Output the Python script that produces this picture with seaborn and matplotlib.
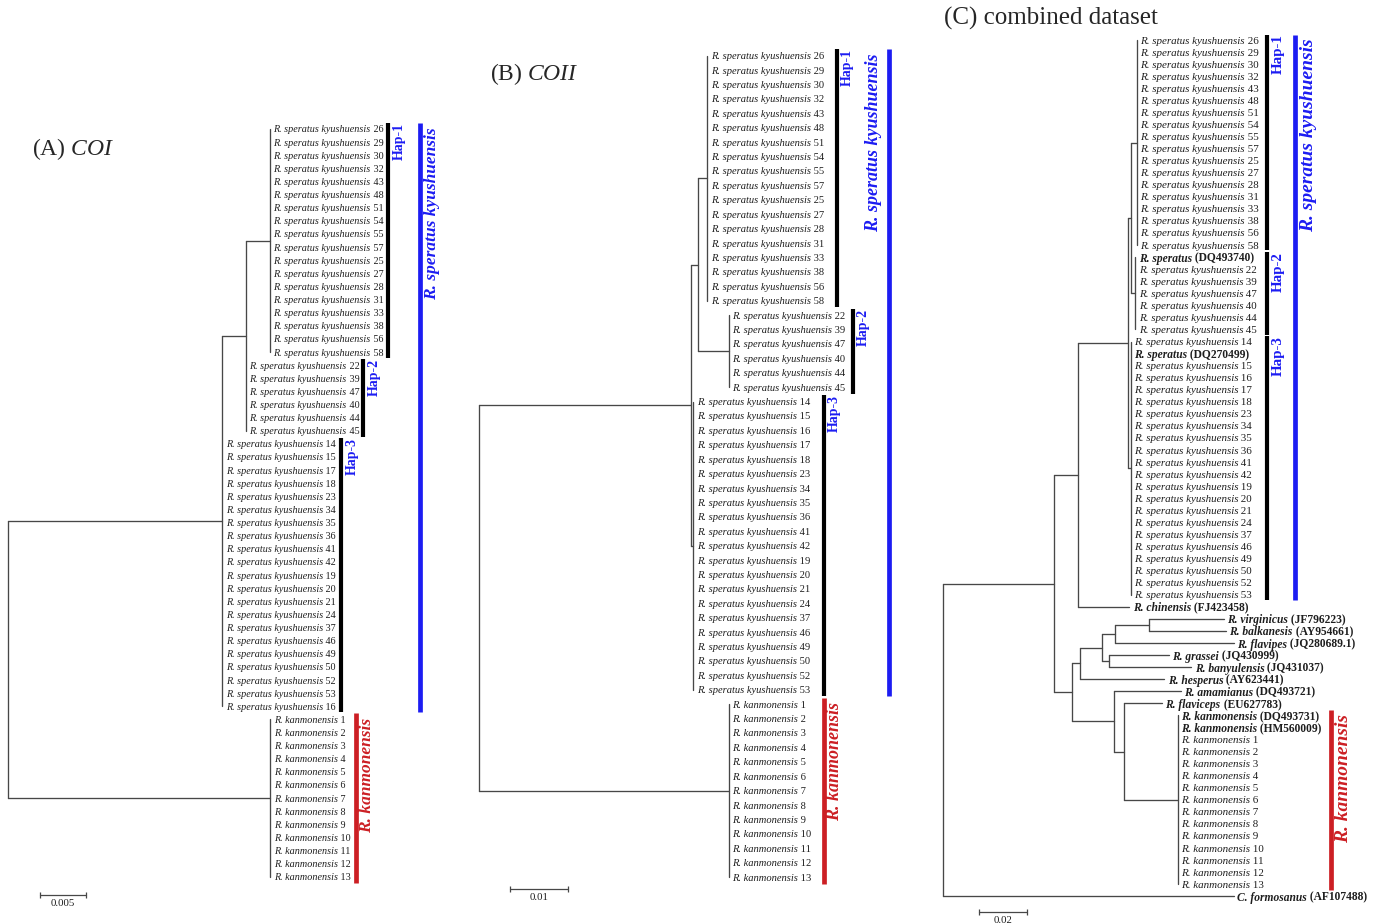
import numpy as np
import pandas as pd
import seaborn as sns
import matplotlib.pyplot as plt

sns.set_theme(style="white")
plt.rcParams['font.family'] = ['Liberation Serif', 'DejaVu Serif']
plt.rcParams['mathtext.fontset'] = 'custom'
plt.rcParams['mathtext.rm'] = 'Liberation Serif'
plt.rcParams['mathtext.it'] = 'Liberation Serif:italic'

SK = 'R. speratus kyushuensis'
SP = 'R. speratus'
RK = 'R. kanmonensis'

# ---------------- (A) COI ----------------
a_hap1 = [26, 29, 30, 32, 43, 48, 51, 54, 55, 57, 25, 27, 28, 31, 33, 38, 56, 58]
a_hap2 = [22, 39, 47, 40, 44, 45]
a_hap3 = [14, 15, 17, 18, 23, 34, 35, 36, 41, 42, 19, 20, 21, 24, 37, 46, 49, 50, 52, 53, 16]
a_kan = list(range(1, 14))
a_node = ['sperat', 'sub', 'hap1', 'kan']
a_depth = [0.02314, 0.0257, 0.02829, 0.02833]

# ---------------- (B) COII ----------------
b_hap1 = [26, 29, 30, 32, 43, 48, 51, 54, 55, 57, 25, 27, 28, 31, 33, 38, 56, 58]
b_hap2 = [22, 39, 47, 40, 44, 45]
b_hap3 = [14, 15, 16, 17, 18, 23, 34, 35, 36, 41, 42, 19, 20, 21, 24, 37, 46, 49, 50, 52, 53]
b_kan = list(range(1, 14))
b_node = ['sperat', 'hap3', 'sub', 'hap1', 'hap2', 'kan']
b_depth = [0.03695, 0.03735, 0.03822, 0.03979, 0.04353, 0.04353]

# ---------------- (C) combined dataset ----------------
c_hap1 = [26, 29, 30, 32, 43, 48, 51, 54, 55, 57, 25, 27, 28, 31, 33, 38, 56, 58]
c_hap2 = ['DQ493740', 22, 39, 47, 40, 44, 45]
c_hap3 = [14, 'DQ270499', 15, 16, 17, 18, 23, 34, 35, 36, 41, 42, 19, 20, 21, 24, 37, 46, 49, 50, 52, 53]
c_kan = ['DQ493731', 'HM560009'] + list(range(1, 14))
c_out = ['R. chinensis', 'R. virginicus', 'R. balkanesis', 'R. flavipes', 'R. grassei',
         'R. banyulensis', 'R. hesperus', 'R. amamianus', 'R. flaviceps', 'C. formosanus']
c_out_acc = ['FJ423458', 'JF796223', 'AY954661', 'JQ280689.1', 'JQ430999',
             'JQ431037', 'AY623441', 'DQ493721', 'EU627783', 'AF107488']
c_out_tip = [0.0778, 0.1171, 0.1180, 0.1212, 0.0942, 0.1036, 0.0923, 0.0993, 0.0914, 0.1212]
c_node = ['ingroup', 'sperchin', 'sperat', 'sub', 'hap1', 'hap2', 'hap3',
          'n1', 'n2', 'n3', 'n4', 'n5', 'n6', 'n7', 'n8', 'kan']
c_depth = [0.0464, 0.0562, 0.0773, 0.0786, 0.0810, 0.0803, 0.0783,
           0.0540, 0.0572, 0.0665, 0.0718, 0.0693, 0.0860, 0.0714, 0.0757, 0.0979]

BLUE = '#1c1cf2'
RED = '#cc1f24'
LINE = '#474747'
INK = '#1e1e1e'
W, H = 1377, 923


def node(depth, children):
    return {'depth': depth, 'children': children}


def tips(names, group, depth, species, acc_species=None):
    out = []
    for n in names:
        if isinstance(n, str):
            out.append({'depth': depth, 'it': acc_species, 'rm': '(%s)' % n, 'bold': True, 'group': group})
        else:
            out.append({'depth': depth, 'it': species, 'rm': str(n), 'bold': False, 'group': group})
    return out


def out_tip(i):
    return {'depth': c_out_tip[i], 'it': c_out[i], 'rm': '(%s)' % c_out_acc[i], 'bold': True, 'group': 'out'}


def layout(nd, rows):
    if 'children' not in nd:
        nd['y'] = len(rows)
        rows.append(nd)
        return
    for ch in nd['children']:
        layout(ch, rows)
    nd['y'] = (nd['children'][0]['y'] + nd['children'][-1]['y']) / 2


def collect(nd, segs):
    if 'children' not in nd:
        return
    kids = nd['children']
    segs.append(((nd['depth'], nd['depth']), (kids[0]['y'], kids[-1]['y'])))
    for ch in kids:
        if ch['depth'] > nd['depth']:
            segs.append(((nd['depth'], ch['depth']), (ch['y'], ch['y'])))
        collect(ch, segs)


def make_panel(x0, sx, y0, sy):
    ax = fig.add_axes([0, 0, 1, 1])
    px = lambda p: (p - x0) / sx
    py = lambda p: (p - y0) / sy
    lims = ((-x0 / sx, (W - x0) / sx), ((H - y0) / sy, -y0 / sy))
    return ax, px, py, lims


def draw_tree(ax, root, fs, fs_bold=None):
    fs_bold = fs_bold or fs
    rows = []
    layout(root, rows)
    segs = []
    collect(root, segs)
    recs = [(i, x, y) for i, (xs, ys) in enumerate(segs) for x, y in zip(xs, ys)]
    df = pd.DataFrame(recs, columns=['seg', 'x', 'y'])
    sns.lineplot(data=df, x='x', y='y', units='seg', estimator=None, sort=False,
                 color=LINE, lw=0.95, ax=ax, legend=False)
    for t in rows:
        wt = 'bold' if t['bold'] else 'normal'
        size = fs_bold if t['bold'] else fs
        t1 = ax.annotate(t['it'], xy=(t['depth'], t['y']), xytext=(2.4, 0), textcoords='offset points',
                         ha='left', va='center_baseline', fontsize=size, color=INK,
                         fontstyle='italic', fontweight=wt)
        ax.annotate(' ' + t['rm'], xy=(1, 0), xycoords=t1, ha='left', va='bottom',
                    fontsize=size, color=INK, fontweight=wt)
    groups = {}
    for t in rows:
        groups.setdefault(t['group'], []).append(t['y'])
    return groups


def hap_bar(ax, rows, xb, xl, text, fs, pad=(0.45, 0.45)):
    y0, y1 = min(rows) - pad[0], max(rows) + pad[1]
    ax.plot([xb, xb], [y0, y1], color='black', lw=3.0, solid_capstyle='butt')
    ax.text(xl, y0, text, rotation=90, ha='center', va='top', fontsize=fs,
            color=BLUE, fontweight='bold')


def species_bar(ax, rows, xb, xl, text, color, fs, pad=(0.45, 0.45), gap=0.3):
    y0, y1 = min(rows) - pad[0], max(rows) + pad[1]
    ax.plot([xb, xb], [y0, y1], color=color, lw=3.4, solid_capstyle='butt')
    ax.text(xl, y0 + gap, text, rotation=90, ha='center', va='top', fontsize=fs,
            color=color, fontweight='bold', fontstyle='italic')


def scale_bar(ax, x0, yr, length, label, fs):
    ax.plot([x0, x0 + length], [yr, yr], color=LINE, lw=0.9, marker='|', ms=5, mew=0.9)
    ax.annotate(label, xy=(x0 + length / 2, yr), xytext=(0, -3), textcoords='offset points',
                ha='center', va='top', fontsize=fs, color=INK)


fig = plt.figure(figsize=(W / 100, H / 100), dpi=100)

# ---- panel A ----
dA = dict(zip(a_node, a_depth))
treeA = node(0, [
    node(dA['sperat'], [
        node(dA['sub'], [node(dA['hap1'], tips(a_hap1, 'hap1', dA['hap1'], SK)),
                         *tips(a_hap2, 'hap2', dA['sub'], SK)]),
        *tips(a_hap3, 'hap3', dA['sperat'], SK)]),
    node(dA['kan'], tips(a_kan, 'kan', dA['kan'], RK))])
ax, px, py, lims = make_panel(8, 9260, 129, 13.12)
g = draw_tree(ax, treeA, 7.3)
hap_bar(ax, g['hap1'], px(388), px(399), 'Hap-1', 10)
hap_bar(ax, g['hap2'], px(363), px(374), 'Hap-2', 10)
hap_bar(ax, g['hap3'], px(341), px(352), 'Hap-3', 10)
species_bar(ax, g['hap1'] + g['hap2'] + g['hap3'], px(420), px(432), SK, BLUE, 12.5, pad=(0.45, 0.4))
species_bar(ax, g['kan'], px(356), px(367), RK, RED, 12.5)
scale_bar(ax, px(40), py(895), 0.005, '0.005', 7.8)
ax.set_xlim(lims[0]); ax.set_ylim(lims[1]); ax.axis('off')

# ---- panel B ----
dB = dict(zip(b_node, b_depth))
treeB = node(0, [
    node(dB['sperat'], [
        node(dB['sub'], [node(dB['hap1'], tips(b_hap1, 'hap1', dB['hap1'], SK)),
                         node(dB['hap2'], tips(b_hap2, 'hap2', dB['hap2'], SK))]),
        node(dB['hap3'], tips(b_hap3, 'hap3', dB['hap3'], SK))]),
    node(dB['kan'], tips(b_kan, 'kan', dB['kan'], RK))])
ax, px, py, lims = make_panel(479.3, 5730, 55.7, 14.41)
g = draw_tree(ax, treeB, 7.6)
hap_bar(ax, g['hap1'], px(836.7), px(847.7), 'Hap-1', 10)
hap_bar(ax, g['hap2'], px(853.3), px(863.3), 'Hap-2', 10)
hap_bar(ax, g['hap3'], px(824), px(834), 'Hap-3', 10)
species_bar(ax, g['hap1'] + g['hap2'] + g['hap3'], px(889), px(873.3), SK, BLUE, 13)
species_bar(ax, g['kan'], px(824), px(835), RK, RED, 13)
scale_bar(ax, px(510.3), py(889), 0.01, '0.01', 7.8)
ax.set_xlim(lims[0]); ax.set_ylim(lims[1]); ax.axis('off')

# ---- panel C ----
dC = dict(zip(c_node, c_depth))
treeC = node(0, [
    node(dC['ingroup'], [
        node(dC['sperchin'], [
            node(dC['sperat'], [
                node(dC['sub'], [node(dC['hap1'], tips(c_hap1, 'hap1', dC['hap1'], SK, SP)),
                                 node(dC['hap2'], tips(c_hap2, 'hap2', dC['hap2'], SK, SP))]),
                node(dC['hap3'], tips(c_hap3, 'hap3', dC['hap3'], SK, SP))]),
            out_tip(0)]),
        node(dC['n1'], [
            node(dC['n2'], [
                node(dC['n3'], [
                    node(dC['n4'], [node(dC['n6'], [out_tip(1), out_tip(2)]), out_tip(3)]),
                    node(dC['n5'], [out_tip(4), out_tip(5)])]),
                out_tip(6)]),
            node(dC['n7'], [
                out_tip(7),
                node(dC['n8'], [out_tip(8), node(dC['kan'], tips(c_kan, 'kan', dC['kan'], RK, RK))])])])]),
    out_tip(9)])
ax, px, py, lims = make_panel(942.7, 2400, 40, 12.06)
g = draw_tree(ax, treeC, 7.9, 8.3)
hap_bar(ax, g['hap1'], px(1266.7), px(1278.3), 'Hap-1', 10.8)
hap_bar(ax, g['hap2'], px(1266.7), px(1278.3), 'Hap-2', 10.8)
hap_bar(ax, g['hap3'], px(1266.7), px(1278.3), 'Hap-3', 10.8)
species_bar(ax, g['hap1'] + g['hap2'] + g['hap3'], px(1295), px(1308.3), SK, BLUE, 14)
species_bar(ax, g['kan'], px(1331), px(1343.3), RK, RED, 14)
scale_bar(ax, px(979.3), py(912), 0.02, '0.02', 7.8)
ax.set_xlim(lims[0]); ax.set_ylim(lims[1]); ax.axis('off')

# ---- panel titles ----
fig.text(32 / W, 1 - 149 / H, r'$\mathrm{(A)\ }\mathit{COI}$', fontsize=17, va='center', ha='left')
fig.text(490 / W, 1 - 74 / H, r'$\mathrm{(B)\ }\mathit{COII}$', fontsize=17, va='center', ha='left')
fig.text(944 / W, 1 - 18 / H, '(C) combined dataset', fontsize=18, va='center', ha='left')

fig.savefig('out.png', dpi=100, facecolor='white')
